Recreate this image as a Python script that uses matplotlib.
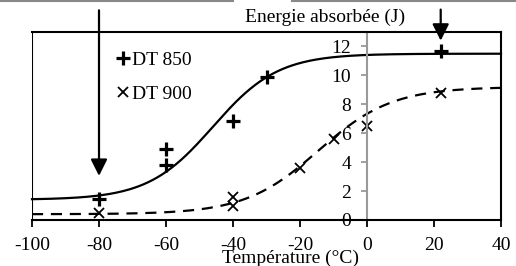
import matplotlib
matplotlib.use("Agg")
import matplotlib.pyplot as plt
import numpy as np
from matplotlib.lines import Line2D

plt.rcParams['font.family'] = ['Liberation Serif', 'DejaVu Serif']
plt.rcParams['axes.unicode_minus'] = False

# measured points
t850 = [-80, -60, -60, -40, -30, 22]
e850 = [1.43, 4.88, 3.79, 6.83, 9.9, 11.7]
t900 = [-80, -40, -40, -20, -10, 0, 22]
e900 = [0.46, 1.61, 0.97, 3.61, 5.57, 6.48, 8.76]

# tanh fits: lower shelf, upper shelf, T0, C
fit850 = [1.4, 11.5, -46.0, 19.4]
fit900 = [0.4, 9.2, -14.5, 22.0]

xticks = [-100, -80, -60, -40, -20, 0, 20, 40]
yticks = [0, 2, 4, 6, 8, 10, 12]

# arrows (x, start, end)
arrow1 = [-80, 14.5, 3.05]
arrow2 = [22, 14.55, 12.4]


def tanh_fit(t, p):
    lo, hi, t0, c = p
    return (hi + lo) / 2 + (hi - lo) / 2 * np.tanh((t - t0) / c)


fig = plt.figure(figsize=(5.16, 2.66), dpi=100)
ax = fig.add_axes([32 / 516, 46 / 266, 469 / 516, 188 / 266])

t = np.linspace(-100, 40, 300)
ax.plot(t, tanh_fit(t, fit850), color='black', lw=1.6, clip_on=False)
ax.plot(t, tanh_fit(t, fit900), color='black', lw=1.6, dashes=(5, 3.5), clip_on=False)

ax.plot(t850, e850, ls='none', marker='+', ms=9.5, mew=2.3, color='black', label='DT 850')
ax.plot(t900, e900, ls='none', marker='x', ms=7, mew=1.3, color='black', label='DT 900')

ax.set_xlim(-100, 40)
ax.set_ylim(0, 13)
ax.set_xticks(xticks)
ax.set_yticks(yticks)

for s in ['top', 'right', 'bottom']:
    ax.spines[s].set_linewidth(1.5)
ax.spines['left'].set_position(('data', 0))
ax.spines['left'].set_color('#999999')
ax.spines['left'].set_linewidth(1.5)
ax.axvline(-100, color='black', lw=1.5)

ax.tick_params(axis='x', direction='out', length=5, width=1.3, pad=7.5, labelsize=14)
ax.tick_params(axis='y', direction='out', length=4, width=1.3, color='#999999', pad=7.5, labelsize=14)

for a in [arrow1, arrow2]:
    ax.annotate('', xy=(a[0], a[2]), xytext=(a[0], a[1]),
                arrowprops=dict(arrowstyle='-|>,head_length=1.0,head_width=0.5',
                                lw=1.6, color='black', shrinkA=0, shrinkB=0,
                                mutation_scale=10),
                annotation_clip=False)

leg = ax.legend(loc='upper left', bbox_to_anchor=(0.164, 0.94), frameon=False,
                fontsize=14, handlelength=0.6, handletextpad=0.2,
                labelspacing=0.85, borderaxespad=0)

fig.text(245 / 516, 1 - 17 / 266, 'Energie absorbée (J)', ha='left', va='center', fontsize=14)
fig.text(291 / 516, 1 - 258 / 266, 'Température (°C)', ha='center', va='center', fontsize=14)

# grey strip along the very top edge
fig.add_artist(Line2D([0, 233 / 516], [0.997, 0.997], color='#888888', lw=1.5))
fig.add_artist(Line2D([292 / 516, 1], [0.997, 0.997], color='#888888', lw=1.5))

fig.savefig('out.png', dpi=100)
